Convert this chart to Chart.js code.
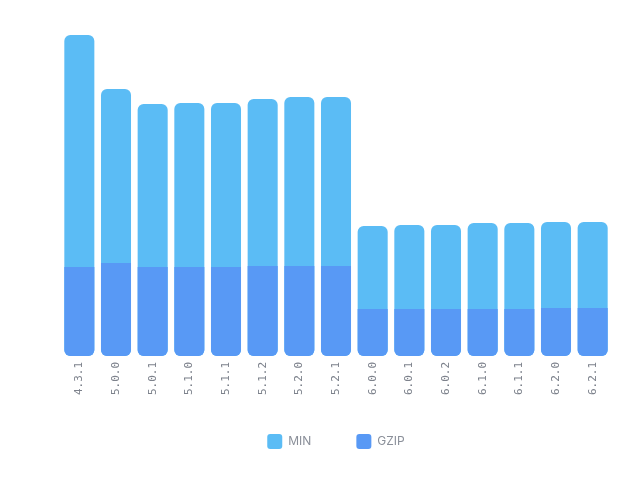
<!DOCTYPE html>
<html>
<head>
<meta charset="utf-8">
<script src="https://cdn.jsdelivr.net/npm/chart.js@4/dist/chart.umd.min.js"></script>
<style>
  html, body { margin: 0; padding: 0; background: #fff; }
  #wrap { width: 640px; height: 486px; }
</style>
</head>
<body>
<div id="wrap"><canvas id="sizeChart"></canvas></div>
<script>
// versions on the x axis
const versions = ['4.3.1', '5.0.0', '5.0.1', '5.1.0', '5.1.1', '5.1.2', '5.2.0', '5.2.1',
                  '6.0.0', '6.0.1', '6.0.2', '6.1.0', '6.1.1', '6.2.0', '6.2.1'];
// minified size (full bar)
const minSizes = [321, 267, 252, 253, 253, 257, 259, 259, 130, 131, 131, 133, 133, 134, 134];
// gzipped size (drawn over the bottom of the bar)
const gzipSizes = [89, 93, 89, 89, 89, 90, 90, 90, 47, 47, 47, 47, 47, 48, 48];
const yMax = 336;

// legend keeps its wide item spacing but takes less room above the items
const LEGEND_TRIM = 12;
const legendTrim = {
    id: 'legendTrim',
    beforeLayout(chart) {
        const legend = chart.legend;
        if (legend && !legend._trimmed) {
            const origFit = legend.fit;
            legend.fit = function() {
                origFit.call(this);
                this.height -= LEGEND_TRIM;
            };
            legend._trimmed = true;
        }
    },
    afterLayout(chart) {
        chart.legend.top -= LEGEND_TRIM;
    }
};

const chart = new Chart(document.getElementById('sizeChart'), {
    type: 'bar',
    data: {
        labels: versions,
        datasets: [{
            label: 'MIN',
            data: minSizes,
            backgroundColor: '#5bbcf5',
            borderRadius: 6,
            borderSkipped: false,
            categoryPercentage: 0.9,
            barPercentage: 0.91,
            order: 2
        }, {
            label: 'GZIP',
            data: gzipSizes,
            backgroundColor: '#5899f5',
            borderRadius: { topLeft: 0, topRight: 0, bottomLeft: 6, bottomRight: 6 },
            borderSkipped: false,
            categoryPercentage: 0.9,
            barPercentage: 0.91,
            order: 1
        }]
    },
    options: {
        responsive: true,
        maintainAspectRatio: false,
        animation: false,
        layout: { padding: { left: 61, right: 29, top: 20, bottom: 27 } },
        plugins: {
            tooltip: { enabled: false },
            legend: {
                position: 'bottom',
                labels: {
                    boxWidth: 15,
                    boxHeight: 15,
                    useBorderRadius: true,
                    borderRadius: 3,
                    padding: 45,
                    color: '#8a8f99',
                    font: { family: 'Inter, "Noto Sans", sans-serif', size: 12 },
                    sort: (a, b) => a.datasetIndex - b.datasetIndex
                }
            }
        },
        scales: {
            x: {
                stacked: true,
                grid: { display: false, drawTicks: false },
                border: { display: false },
                ticks: {
                    minRotation: 90,
                    maxRotation: 90,
                    padding: 6,
                    color: '#7d828c',
                    font: { family: '"DejaVu Sans Mono", monospace', size: 11 }
                }
            },
            y: {
                display: false,
                stacked: false,
                min: 0,
                max: yMax
            }
        }
    },
    plugins: [legendTrim]
});
</script>
</body>
</html>
